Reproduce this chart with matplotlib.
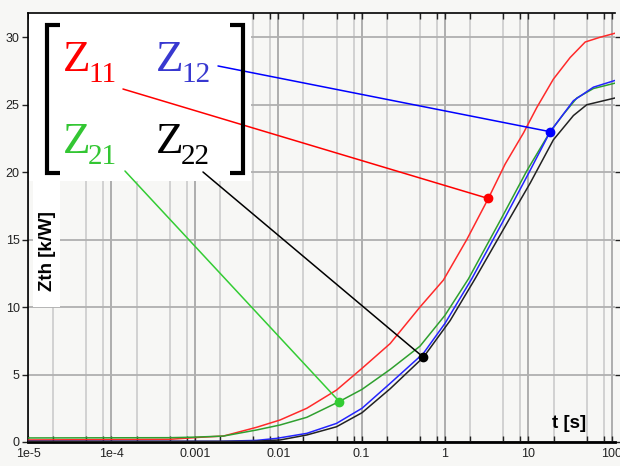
import matplotlib.pyplot as plt
from matplotlib.lines import Line2D
from matplotlib.patches import Rectangle
from matplotlib.ticker import LogLocator, FixedLocator, FixedFormatter, NullFormatter

# thermal impedance curves, time [s] -> Zth [K/W]
t11 = [1e-5, 5e-4, 0.00116, 0.0022, 0.0055, 0.0105, 0.022, 0.05, 0.101, 0.22,
       0.50, 0.955, 1.82, 3.3, 5.25, 8.7, 12.6, 19.9, 31.6, 47.9, 72, 109]
z11 = [0.15, 0.2, 0.35, 0.44, 1.09, 1.63, 2.5, 3.85, 5.46, 7.3,
       10.0, 12.0, 15.0, 18.05, 20.6, 22.9, 24.8, 26.9, 28.5, 29.65, 30.0, 30.3]

t21 = [1e-5, 5e-4, 1e-3, 0.0022, 0.0055, 0.0105, 0.022, 0.054, 0.101, 0.22,
       0.5, 1.0, 1.91, 4.57, 9.55, 18.2, 26.3, 38, 60, 109]
z21 = [0.3, 0.32, 0.36, 0.44, 0.89, 1.26, 1.83, 3.0, 3.9, 5.38,
       7.1, 9.4, 12.1, 16.4, 20.1, 23.0, 24.3, 25.5, 26.2, 26.6]

t12 = [1e-5, 2e-3, 0.0055, 0.0096, 0.022, 0.05, 0.101, 0.22, 0.55, 1.0,
       2.09, 5.0, 10, 18.2, 34.6, 60, 109]
z12 = [0.05, 0.05, 0.12, 0.27, 0.64, 1.38, 2.5, 4.35, 6.57, 8.8,
       12.1, 16.4, 19.9, 23.0, 25.3, 26.3, 26.8]

t22 = [1e-5, 5e-3, 0.0105, 0.022, 0.05, 0.101, 0.22, 0.55, 1.15, 2.29,
       5.5, 10.5, 19.9, 34.6, 50, 109]
z22 = [0.05, 0.05, 0.15, 0.52, 1.13, 2.17, 3.95, 6.28, 9.0, 12.1,
       16.2, 19.2, 22.4, 24.2, 25.0, 25.5]

# points where the leader lines hit the curves
dot_t = {"11": 3.3, "12": 18.2, "21": 0.054, "22": 0.55}
dot_z = {"11": 18.05, "12": 23.0, "21": 3.0, "22": 6.28}

xtick_labels = ["1e-5", "1e-4", "0.001", "0.01", "0.1", "1", "10", "100"]
yticks = [0, 5, 10, 15, 20, 25, 30]

W, H = 620, 466
bg = "#f7f7f5"

fig = plt.figure(figsize=(W / 100, H / 100), dpi=100, facecolor=bg)
ax = fig.add_axes([28 / W, (H - 442) / H, 587 / W, 429 / H], facecolor=bg)


def fp(px, py):
    # pixel (from top-left) -> figure fraction
    return px / W, 1 - py / H


curves = [(t11, z11, "#ff2a2a"), (t21, z21, "#2fa02f"),
          (t12, z12, "#2424ff"), (t22, z22, "#222222")]
for tt, z, c in curves:
    ax.plot(tt, z, color=c, lw=1.1, zorder=3)

ax.set_xscale("log")
ax.set_xlim(1e-5, 109)
ax.set_ylim(0, 31.8)

ax.xaxis.set_major_locator(FixedLocator([10.0 ** k for k in range(-5, 3)]))
ax.xaxis.set_major_formatter(FixedFormatter(xtick_labels))
ax.xaxis.set_minor_locator(LogLocator(base=10, subs=(2, 5, 8), numticks=12))
ax.xaxis.set_minor_formatter(NullFormatter())
ax.set_yticks(yticks)

ax.set_axisbelow(True)
ax.grid(True, which="major", axis="x", color="#a8a8a8", lw=1.3)
ax.grid(True, which="minor", axis="x", color="#cfcfcf", lw=1.3)
ax.grid(True, which="major", axis="y", color="#b0b0b0", lw=1.3)

ax.tick_params(axis="both", which="both", labelsize=9, length=4, width=1,
               colors="#222222", pad=2)
ax.tick_params(axis="x", which="both", top=True, direction="in", length=4)
ax.tick_params(axis="x", which="major", pad=4)
ax.tick_params(axis="y", right=True, direction="out")
for lab in ax.get_xticklabels() + ax.get_yticklabels():
    lab.set_fontfamily("Liberation Sans")
ax.spines["right"].set_visible(False)
ax.spines["bottom"].set_linewidth(2)
ax.spines["left"].set_linewidth(1.2)
ax.spines["top"].set_linewidth(1.2)

# white panels behind the matrix and the y label
ax.add_patch(Rectangle((0.002, 0.608), 0.378, 0.392, transform=ax.transAxes,
                       facecolor="white", edgecolor="none", zorder=1))
ax.add_patch(Rectangle((0.0085, 0.315), 0.046, 0.295, transform=ax.transAxes,
                       facecolor="white", edgecolor="none", zorder=1))

ax.text(0.034, 0.446, "Zth [k/W]", transform=ax.transAxes, rotation=90,
        ha="center", va="center", fontsize=13.5, fontweight="bold",
        family="Liberation Sans", zorder=4)
fig.text(*fp(569, 428), "t [s]", ha="center", va="baseline", fontsize=13.5,
         fontweight="bold", family="Liberation Sans")

# matrix brackets
for xs, ys in [([60, 47, 47, 60], [25, 25, 173, 173]),
               ([230, 243, 243, 230], [25, 25, 173, 173])]:
    pts = [fp(x, y) for x, y in zip(xs, ys)]
    fig.add_artist(Line2D([p[0] for p in pts], [p[1] for p in pts],
                          transform=fig.transFigure, color="black", lw=3,
                          solid_capstyle="butt", solid_joinstyle="miter"))

# matrix entries: big Z plus subscript
entries = [("11", "#ff0000", 63, 71), ("12", "#3838d0", 156, 71),
           ("21", "#33c633", 63, 153), ("22", "black", 156, 153)]
for sub, c, px, py in entries:
    fig.text(*fp(px, py), "Z", color=c, fontsize=32.5, family="Liberation Serif",
             ha="left", va="baseline")
    fig.text(*fp(px + 25, py + 11), sub, color=c, fontsize=21,
             family="Liberation Serif", ha="left", va="baseline")

# leader lines from the matrix to the curves
leaders = [("11", "#ff0000", (0.1618, 0.8228)), ("12", "#0000ff", (0.3237, 0.8765)),
           ("21", "#33cc33", (0.1652, 0.6317)), ("22", "black", (0.2981, 0.6294))]
for key, c, start in leaders:
    ax.annotate("", xy=(dot_t[key], dot_z[key]), xycoords="data",
                xytext=start, textcoords="axes fraction",
                arrowprops=dict(arrowstyle="-", color=c, lw=1.1,
                                shrinkA=0, shrinkB=0), zorder=4)
    ax.plot(dot_t[key], dot_z[key], "o", color=c, ms=6, zorder=5)

fig.savefig("out.png", dpi=100, facecolor=bg)
